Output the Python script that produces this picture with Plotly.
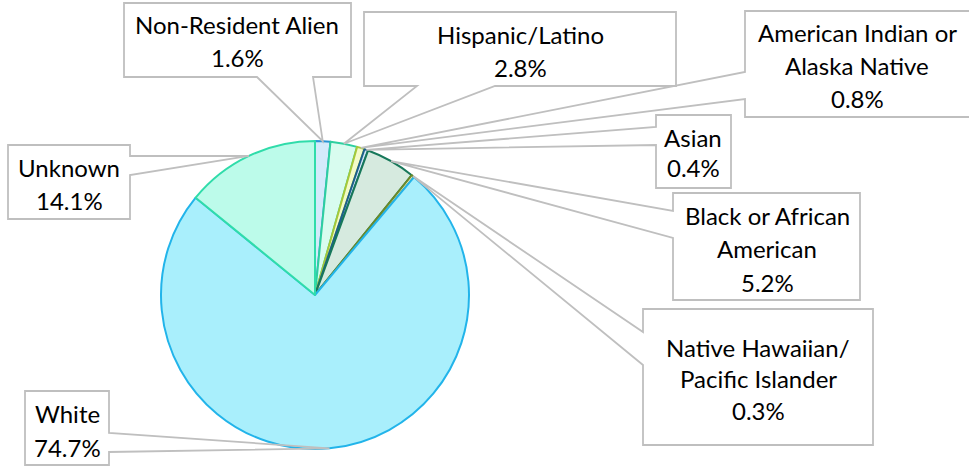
import math
import plotly.graph_objects as go

# ---------------- data ----------------
categories = [
    "Non-Resident Alien",
    "Hispanic/Latino",
    "American Indian or Alaska Native",
    "Asian",
    "Black or African American",
    "Native Hawaiian/Pacific Islander",
    "White",
    "Unknown",
]
label_lines = [
    ["Non-Resident Alien"],
    ["Hispanic/Latino"],
    ["American Indian or", "Alaska Native"],
    ["Asian"],
    ["Black or African", "American"],
    ["Native Hawaiian/", "Pacific Islander"],
    ["White"],
    ["Unknown"],
]
values = [1.6, 2.8, 0.8, 0.4, 5.2, 0.3, 74.7, 14.1]

# ---------------- style ----------------
fill_colors = ["#d4eafb", "#d8fcef", "#f3fbc9", "#cfe6f2", "#d6eadf", "#e6efcf", "#a9effc", "#bcfbea"]
line_colors = ["#2a93d5", "#2ecfa0", "#a6c83a", "#1d5f8c", "#17785a", "#6b8a2a", "#22b4ea", "#30dcaa"]

W, H = 969, 466
CX, CY, R = 315, 295, 154
FONT = "Lato"

# callout boxes (pixel layout): box, side of tail, tail anchors, text line y centres, text x centre
callouts = [
    dict(box=(124, 3, 351, 77), side="bottom", anchors=(257, 313), ys=(25, 58), tx=237),
    dict(box=(364, 12, 676, 86), side="bottom", anchors=(417, 495), ys=(34, 67), tx=520),
    dict(box=(745, 11, 975, 117), side="left", anchors=(72, 99), ys=(33, 65, 98), tx=857),
    dict(box=(656, 115, 731, 188), side="left", anchors=(127, 145), ys=(137, 168), tx=693),
    dict(box=(673, 193, 860, 300), side="left", anchors=(211, 238), ys=(215, 248, 282), tx=767),
    dict(box=(643, 309, 873, 445), side="left", anchors=(332, 365), ys=(347, 378, 410), tx=758),
    dict(box=(25, 391, 109, 465), side="right", anchors=(433, 452), ys=(413, 447), tx=67),
    dict(box=(8, 145, 130, 219), side="right", anchors=(156, 175), ys=(167, 200), tx=69),
]


def px(x):
    return x / W


def py(y):
    return 1 - y / H


fig = go.Figure()
fig.add_trace(
    go.Pie(
        values=values,
        labels=categories,
        sort=False,
        direction="clockwise",
        rotation=0,
        textinfo="none",
        hoverinfo="label+percent",
        showlegend=False,
        marker=dict(colors=fill_colors, line=dict(color=line_colors, width=2)),
        domain=dict(x=[px(CX - R), px(CX + R)], y=[py(CY + R), py(CY - R)]),
    )
)

# tail tips at the mid-angle of each slice, computed from the values
total = sum(values)
shapes = []
annotations = []
cum = 0.0
for i, v in enumerate(values):
    mid = (cum + v / 2) / total
    cum += v
    ang = 2 * math.pi * mid
    tipx = CX + R * math.sin(ang)
    tipy = CY - R * math.cos(ang)
    c = callouts[i]
    x0, y0, x1, y1 = c["box"]
    a, b = c["anchors"]
    if c["side"] == "bottom":
        pts = [(x0, y0), (x1, y0), (x1, y1), (b, y1), (tipx, tipy), (a, y1), (x0, y1)]
    elif c["side"] == "left":
        pts = [(x0, y0), (x1, y0), (x1, y1), (x0, y1), (x0, b), (tipx, tipy), (x0, a)]
    else:
        pts = [(x0, y0), (x1, y0), (x1, a), (tipx, tipy), (x1, b), (x1, y1), (x0, y1)]
    path = "M " + " L ".join(f"{px(x):.5f},{py(y):.5f}" for x, y in pts) + " Z"
    shapes.append(
        dict(
            type="path",
            path=path,
            xref="paper",
            yref="paper",
            line=dict(color="#bfbfbf", width=1.8),
            fillcolor="rgba(0,0,0,0)",
            layer="above",
        )
    )
    lines = label_lines[i] + [f"{v:.1f}%"]
    for txt, yy in zip(lines, c["ys"]):
        annotations.append(
            dict(
                text=txt,
                x=px(c["tx"]),
                y=py(yy),
                xref="paper",
                yref="paper",
                xanchor="center",
                yanchor="middle",
                showarrow=False,
                font=dict(family=FONT, size=24, color="#000000"),
            )
        )

fig.update_layout(
    width=W,
    height=H,
    margin=dict(l=0, r=0, t=0, b=0),
    paper_bgcolor="white",
    plot_bgcolor="white",
    shapes=shapes,
    annotations=annotations,
)

fig.write_html(
    "out.html",
    config={"displayModeBar": False},
    post_script="document.body.style.margin='0';document.body.style.overflow='hidden';",
)
